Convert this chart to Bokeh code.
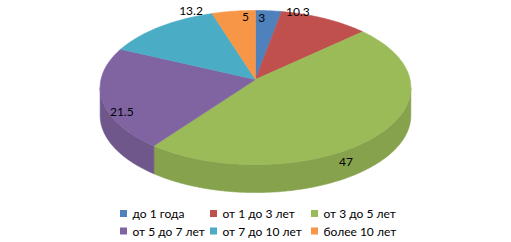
import numpy as np
from bokeh.plotting import figure
from bokeh.models import Range1d
from bokeh.core.properties import value
from bokeh.embed import file_html
from bokeh.resources import INLINE

# ---- data ----
categories = ["до 1 года", "от 1 до 3 лет", "от 3 до 5 лет",
              "от 5 до 7 лет", "от 7 до 10 лет", "более 10 лет"]
values = [3, 10.3, 47, 21.5, 13.2, 5]
labels = ["3", "10.3", "47", "21.5", "13.2", "5"]

# ---- style ----
colors = ["#4F81BD", "#C0504D", "#9BBB59", "#8064A2", "#4BACC6", "#F79646"]
W, H = 511, 242
CX, AY = 255.0, 79.0          # apex of the pie (screen px)
SX, SY = 154.5, 76.2          # radii
D = 9.6                       # perspective distance
DEPTH = 28.0
FONT = "Lato"
WALL_K = 0.87
# label offsets (px) relative to the rim point at the mid angle
lab_off = [(-7, 7), (-27, -7), (-32, 27), (20, 13), (31, -15.5), (12, 6)]


def proj(theta):
    c, s = np.cos(theta), np.sin(theta)
    f = D / (D + c)
    return CX + SX * s * f, AY - SY * c * f


def shade(hexcol, k):
    r, g, b = int(hexcol[1:3], 16), int(hexcol[3:5], 16), int(hexcol[5:7], 16)
    return "#%02x%02x%02x" % (int(r * k), int(g * k), int(b * k))


p = figure(width=W, height=H, x_range=Range1d(0, W), y_range=Range1d(H, 0),
           output_backend="svg", toolbar_location=None, min_border=0,
           background_fill_color="white", border_fill_color="white")
p.axis.visible = False
p.grid.visible = False
p.outline_line_color = None

total = float(sum(values))
fr = np.array(values) / total
ends = np.cumsum(fr) * 2 * np.pi
starts = ends - fr * 2 * np.pi

# silhouette angles
g = np.linspace(np.pi / 3, 2 * np.pi / 3, 2000)
th_r = g[np.argmax(proj(g)[0])]
g2 = np.linspace(4 * np.pi / 3, 5 * np.pi / 3, 2000)
th_l = g2[np.argmin(proj(g2)[0])]

# side walls
wx, wy, wc = [], [], []
for i in range(len(values)):
    a0, a1 = max(starts[i], th_r), min(ends[i], th_l)
    if a1 <= a0:
        continue
    t = np.linspace(a0, a1, 200)
    x, y = proj(t)
    wx.append(list(x) + list(x[::-1]))
    wy.append(list(y) + list((y + DEPTH)[::-1]))
    wc.append(shade(colors[i], WALL_K))
p.patches(xs=wx, ys=wy, fill_color=wc, line_color=wc, line_width=0.6)

# top faces
tx, ty = [], []
for i in range(len(values)):
    t = np.linspace(starts[i], ends[i], max(3, int(fr[i] * 360)))
    x, y = proj(t)
    tx.append([CX] + list(x))
    ty.append([AY] + list(y))
p.patches(xs=tx, ys=ty, fill_color=colors, line_color=colors, line_width=0.6)

# data labels
mids = 0.5 * (starts + ends)
mx, my = proj(mids)
lx = [mx[i] + lab_off[i][0] for i in range(len(values))]
ly = [my[i] + lab_off[i][1] for i in range(len(values))]
p.text(x=lx, y=ly, text=labels, text_font=value(FONT), text_font_size="12px",
       text_color="#000000", text_align="center", text_baseline="middle")

# legend
leg_col_x = [123, 213, 314]
leg_row_y = [213, 230.5]
sx_, sy_, tx_, ty_ = [], [], [], []
for i, name in enumerate(categories):
    r, c = divmod(i, 3)
    sx_.append(leg_col_x[c]); sy_.append(leg_row_y[r])
    tx_.append(leg_col_x[c] + 9); ty_.append(leg_row_y[r])
p.rect(x=sx_, y=sy_, width=7, height=7, fill_color=colors, line_color=None)
p.text(x=tx_, y=ty_, text=categories, text_font=value(FONT), text_font_size="12px",
       text_color="#000000", text_align="left", text_baseline="middle")

open("out.html", "w").write(file_html(p, INLINE))
